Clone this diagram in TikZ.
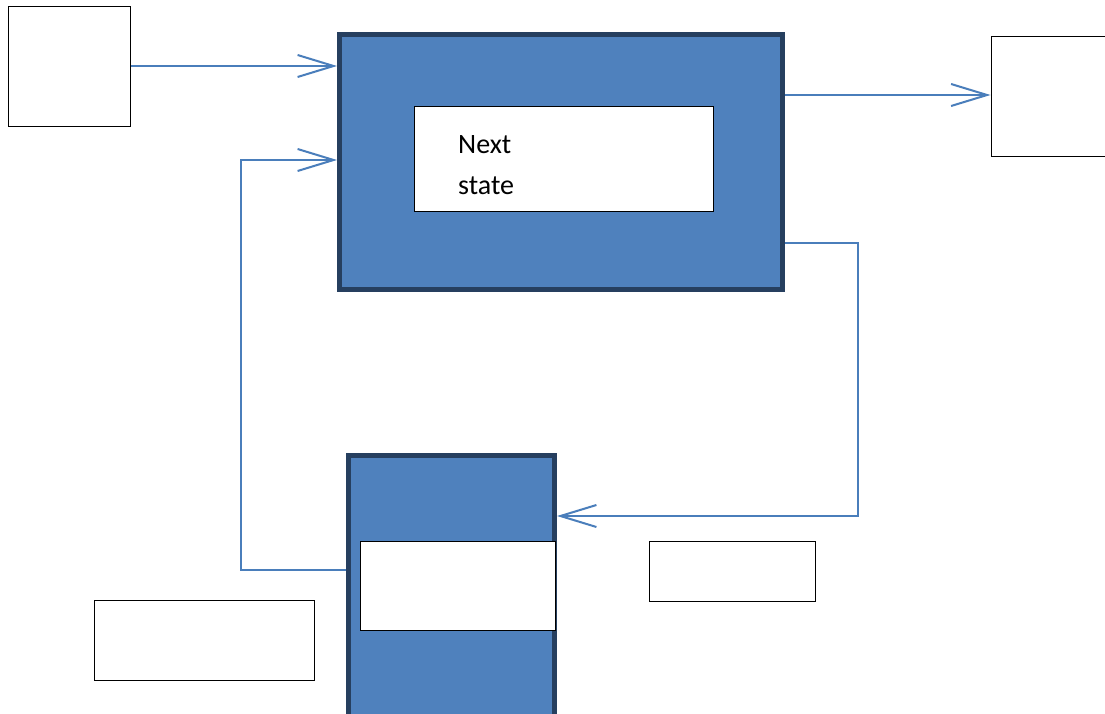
\documentclass[tikz,border=0pt]{standalone}
\usepackage{fontspec}
\setmainfont{Carlito}
\usetikzlibrary{arrows.meta}
\definecolor{blockfill}{HTML}{4F81BD}
\definecolor{blockedge}{HTML}{263F5F}
\definecolor{wire}{HTML}{4A7EBB}
\tikzset{
  plainbox/.style={draw=black, line width=1pt, fill=white, inner sep=0pt},
  block/.style={draw=blockedge, fill=blockfill, line width=5pt, inner sep=0pt},
  conn/.style={draw=wire, line width=2pt,
    -{Straight Barb[length=36pt,width=22pt,line width=2pt]}},
  thinconn/.style={draw=wire, line width=1.5pt,
    -{Straight Barb[length=36pt,width=22pt,line width=2pt]}},
}
\begin{document}
\begin{tikzpicture}[x=1pt,y=-1pt]
\clip (0,0) rectangle (1105,714);
\fill[white] (0,0) rectangle (1105,714);

% main block and its inner panel
\node[block, minimum width=443pt, minimum height=255pt] (main) at (561,162) {};
\node[plainbox, minimum width=299pt, minimum height=104pt] (inner) at (563.5,159) {};
\node[anchor=north west, inner sep=0pt, align=left,
      font=\fontsize{28}{41}\selectfont] (lbl) at (458,135) {Next\\state};

% lower block and its inner panel
\node[block, minimum width=206pt, minimum height=275pt] (lower) at (451.5,592.5) {};
\node[plainbox, minimum width=195pt, minimum height=89pt] (lowin) at (457.5,585.5) {};

% empty boxes
\node[plainbox, minimum width=122pt, minimum height=120pt] (inbox) at (69,67) {};
\node[plainbox, minimum width=122pt, minimum height=120pt] (outbox) at (1052,97) {};
\node[plainbox, minimum width=220pt, minimum height=80pt] (boxa) at (204,640) {};
\node[plainbox, minimum width=166pt, minimum height=60pt] (boxb) at (732,571) {};

% connectors
\draw[conn] (inbox.east |- 0,66) -- (main.west |- 0,66);
\draw[conn] (main.east |- 0,95) -- (outbox.west |- 0,95);
\draw[thinconn] (main.east |- 0,243) -- (858,243) -- (858,516) -- (lower.east |- 0,516);
\draw[thinconn] (lower.west |- 0,570) -- (241,570) -- (241,160) -- (main.west |- 0,160);
\end{tikzpicture}
\end{document}
